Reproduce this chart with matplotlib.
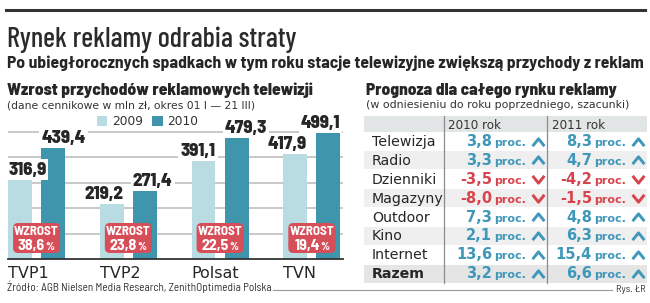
import matplotlib
matplotlib.use('Agg')
import numpy as np
import matplotlib.pyplot as plt
import matplotlib.transforms as mtransforms
from matplotlib import font_manager
from matplotlib.patches import Rectangle, FancyBboxPatch
from matplotlib.lines import Line2D
from matplotlib.path import Path

# --- data ---
channels = ['TVP1', 'TVP2', 'Polsat', 'TVN']
rev_2009 = [316.9, 219.2, 391.1, 417.9]
rev_2010 = [439.4, 271.4, 479.3, 499.1]
growth = [38.6, 23.8, 22.5, 19.4]
years = ['2009', '2010']

media = ['Telewizja', 'Radio', 'Dzienniki', 'Magazyny', 'Outdoor', 'Kino', 'Internet', 'Razem']
fc_2010 = [3.8, 3.3, -3.5, -8.0, 7.3, 2.1, 13.6, 3.2]
fc_2011 = [8.3, 4.7, -4.2, -1.5, 4.8, 6.3, 15.4, 6.6]
col_heads = ['2010 rok', '2011 rok']

# label alignment for the bar values (edge bars keep labels inside the frame)
ha_2009 = ['left', 'right', 'right', 'right']
ha_2010 = ['left', 'left', 'left', 'right']

C09 = '#b9dbe2'
C10 = '#3f95ab'
BOX = '#d64e58'
BLUE = '#3f97b9'
RED = '#d8434c'
DARK = '#262626'

names = {f.name for f in font_manager.fontManager.ttflist}
NARROW = next(n for n in ['Barlow Semi Condensed', 'Liberation Sans Narrow', 'Liberation Sans'] if n in names)
TITLE = next(n for n in ['Barlow Condensed', NARROW] if n in names)
BODY = 'DejaVu Sans'

W, H = 650, 303
fig = plt.figure(figsize=(W / 100, H / 100), dpi=100)
PT = 0.72  # points per pixel

UP = Path([(-1, -0.62), (0, 0.62), (1, -0.62)], [Path.MOVETO, Path.LINETO, Path.LINETO])
DOWN = Path([(-1, 0.62), (0, -0.62), (1, 0.62)], [Path.MOVETO, Path.LINETO, Path.LINETO])


def fx(x):
    return x / W


def fy(y):
    return 1 - y / H


def ftext(x, y, s, **kw):
    return fig.text(fx(x), fy(y), s, **kw)


def fit(t, width):
    r = fig.canvas.get_renderer()
    w = t.get_window_extent(r).width
    t.set_fontsize(t.get_fontsize() * width / w)


# header
fig.add_artist(Line2D([fx(6), fx(645)], [fy(10), fy(10)], lw=2.2, color='#333333'))
t = ftext(7, 47, 'Rynek reklamy odrabia straty', family=TITLE, fontweight='medium', fontsize=20,
          color='#2b2b2b')
fit(t, 290)
t = ftext(7, 68, 'Po ubiegłorocznych spadkach w tym roku stacje telewizyjne zwiększą przychody z reklam',
          family=NARROW, fontweight='bold', fontsize=11, color=DARK)
fit(t, 638)

t = ftext(7, 95, 'Wzrost przychodów reklamowych telewizji', family=NARROW, fontweight='heavy',
          fontsize=12, color=DARK)
fit(t, 306)
t = ftext(7, 108, '(dane cennikowe w mln zł, okres 01 I — 21 III)', family=BODY, fontsize=8, color='#333333')
fit(t, 249)

t = ftext(366, 95, 'Prognoza dla całego rynku reklamy', family=NARROW, fontweight='heavy',
          fontsize=12, color=DARK)
fit(t, 251)
t = ftext(366, 108, '(w odniesieniu do roku poprzedniego, szacunki)', family=BODY, fontsize=8, color='#333333')
fit(t, 263)

# --- bar chart ---
ax = fig.add_axes([fx(8), fy(259), fx(343) - fx(8), fy(115) - fy(259)])
x = np.arange(len(channels))
bw, off = 0.26, 0.18
ax.bar(x - off, rev_2009, bw, color=C09, label=years[0], zorder=2)
ax.bar(x + off, rev_2010, bw, color=C10, label=years[1], zorder=2)

ax.set_yticks([100, 200, 300, 400, 500])
ax.yaxis.grid(True, color='#c4c4c4', lw=1.3)
ax.set_axisbelow(True)
ax.tick_params(axis='y', length=0, labelleft=False)
for s in ['top', 'left', 'right']:
    ax.spines[s].set_visible(False)
ax.spines['bottom'].set_color('#333333')
ax.spines['bottom'].set_linewidth(1.3)
ax.set_xticks(x - off - bw / 2 + 0.001, channels, ha='left', fontsize=11.5, color=DARK, family=BODY)
ax.tick_params(axis='x', length=0, pad=5)

for i in range(len(channels)):
    for vals, ha_list, c in ((rev_2009, ha_2009, x[i] - off), (rev_2010, ha_2010, x[i] + off)):
        v = vals[i]
        ha = ha_list[i]
        xe = c - bw / 2 if ha == 'left' else c + bw / 2
        ax.annotate(f'{v:.1f}'.replace('.', ','), xy=(xe, v), xytext=(0, 4 * PT),
                    textcoords='offset points', ha=ha, va='baseline', family=NARROW,
                    fontweight='heavy', fontsize=13.5, color=DARK, zorder=4, annotation_clip=False,
                    bbox=dict(fc='white', ec='none', pad=1.5))

    trans = fig.dpi_scale_trans + mtransforms.ScaledTranslation(x[i], 0, ax.transData)
    ax.add_patch(FancyBboxPatch((-0.235, 0.06), 0.47, 0.30, boxstyle='round,pad=0,rounding_size=0.05',
                                transform=trans, fc=BOX, ec='none', zorder=3))
    ax.annotate('WZROST', xy=(x[i], 0), xytext=(0, 24 * PT), textcoords='offset points',
                ha='center', va='baseline', family=NARROW, fontweight='bold', fontsize=9.5,
                color='white', zorder=4)
    ax.annotate(f'{growth[i]:.1f}'.replace('.', ','), xy=(x[i], 0), xytext=(8.5 * PT, 9 * PT),
                textcoords='offset points', ha='right', va='baseline', family=NARROW,
                fontweight='bold', fontsize=11.5, color='white', zorder=4)
    ax.annotate('%', xy=(x[i], 0), xytext=(9 * PT, 9 * PT), textcoords='offset points',
                ha='left', va='baseline', family=NARROW, fontweight='bold', fontsize=8,
                color='white', zorder=4)

ax.set_xlim(-0.312, 3.34)
ax.set_ylim(0, 567)

ax.legend(loc='center left', bbox_to_anchor=(fx(97), fy(121.5)), bbox_transform=fig.transFigure,
          ncol=2, frameon=False, handlelength=0.85, handleheight=0.85, handletextpad=0.35,
          columnspacing=0.8, borderpad=0, borderaxespad=0,
          prop=dict(family=BODY, size=8.8), labelcolor='#333333')

# --- table ---
tl, tr = 364, 647
cols = [443.5, 547]
head_top, head_h, row_h = 116, 16, 18.9
fig.add_artist(Rectangle((fx(tl), fy(head_top + head_h)), fx(tr) - fx(tl), fy(head_top) - fy(head_top + head_h),
                         transform=fig.transFigure, fc='#e2e5e5', ec='none'))
for j, h in enumerate(col_heads):
    ftext(cols[j] + 4.5, head_top + 12.5, h, family=BODY, fontsize=8.6, color='#333333')

for i, name in enumerate(media):
    top = head_top + head_h + i * row_h
    if i % 2 == 1:
        fc = '#e5e5e5' if name == 'Razem' else '#efefef'
        fig.add_artist(Rectangle((fx(tl), fy(top + row_h - 0.5)), fx(tr) - fx(tl), fy(top + 0.5) - fy(top + row_h - 0.5),
                                 transform=fig.transFigure, fc=fc, ec='none'))
    base = top + 14
    ftext(372, base, name, family=BODY, fontsize=10.2, color=DARK,
          fontweight='bold' if name == 'Razem' else 'normal')
    for R, v in ((cols[1], fc_2010[i]), (tr, fc_2011[i])):
        c = BLUE if v > 0 else RED
        fig.add_artist(Line2D([fx(R - 9.5)], [fy(base - 4.5)], marker=UP if v > 0 else DOWN,
                              markersize=8.5, mew=2.1, mec=c, fillstyle='none', linestyle='none'))
        ftext(R - 21, base, 'proc.', family=BODY, fontweight='bold', fontsize=8, color=c, ha='right')
        ftext(R - 55, base, f'{v:.1f}'.replace('.', ','), family=BODY, fontweight='bold',
              fontsize=10.5, color=c, ha='right')

for cx in cols:
    fig.add_artist(Line2D([fx(cx), fx(cx)], [fy(head_top), fy(head_top + head_h + 8 * row_h)],
                          lw=0.9, color='#8c8c8c'))

# --- footer ---
t = ftext(7, 291, 'Źródło: AGB Nielsen Media Research, ZenithOptimedia Polska', family=NARROW,
          fontsize=7, color='#333333')
fit(t, 263)
fig.add_artist(Line2D([fx(273), fx(612)], [fy(290), fy(290)], lw=0.8, color='#999999'))
t = ftext(646, 292, 'Rys. ŁR', family=NARROW, fontsize=7.5, color='#333333', ha='right')

fig.savefig('out.png', dpi=100)
